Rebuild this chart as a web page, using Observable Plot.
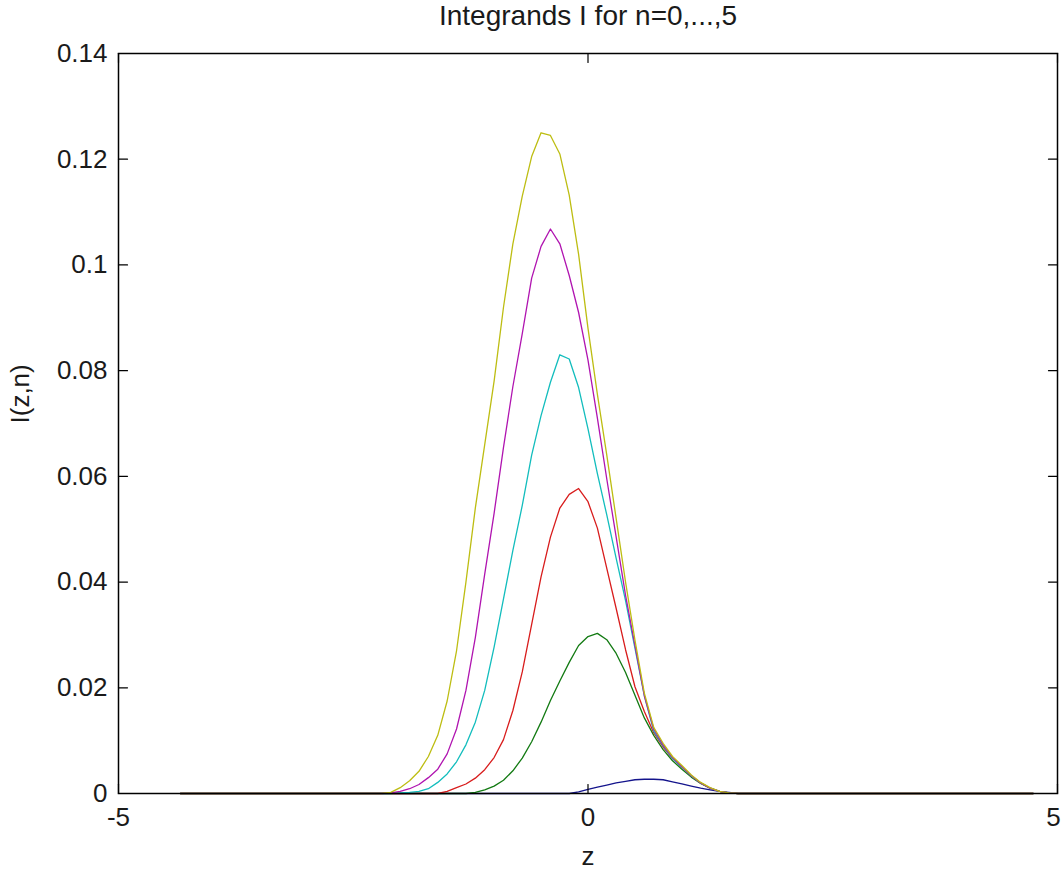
<!DOCTYPE html>
<html>
<head>
<meta charset="utf-8">
<script src="https://cdn.jsdelivr.net/npm/d3@7"></script>
<script src="https://cdn.jsdelivr.net/npm/@observablehq/plot@0.6"></script>
<style>
  html, body { margin: 0; padding: 0; background: #ffffff; }
  #chart { width: 1062px; height: 871px; overflow: hidden; }
</style>
</head>
<body>
<div id="chart"></div>
<script>
// ---- Data ----
const titleText = "Integrands I for n=0,...,5";
const xLabel = "z";
const yLabel = "I(z,n)";

const xTicks = [-5, 0, 5];
const xTickLabels = ["-5", "0", "5"];
const yTicks = [0, 0.02, 0.04, 0.06, 0.08, 0.1, 0.12, 0.14];
const yTickLabels = ["0", "0.02", "0.04", "0.06", "0.08", "0.1", "0.12", "0.14"];

const seriesNames = ["n=0", "n=1", "n=2", "n=3", "n=4", "n=5"];
const seriesColors = ["#14148c", "#127a12", "#d81c1c", "#12bdbd", "#b014b0", "#bdbd12"];

const zs = [-4.34, -2.2, -2.1, -2.0, -1.9, -1.8, -1.7, -1.6, -1.5, -1.4, -1.3, -1.2, -1.1, -1.0,
  -0.9, -0.8, -0.7, -0.6, -0.5, -0.4, -0.3, -0.2, -0.1, 0.0, 0.1, 0.2, 0.3, 0.4, 0.5, 0.6,
  0.7, 0.8, 0.9, 1.0, 1.1, 1.2, 1.3, 1.4, 1.5, 1.6, 4.74];

const n0 = [0, 0, 0, 0, 0, 0, 0, 0, 0, 0, 0, 0, 0, 0,
  0, 0, 0, 0, 0, 0, 0, 0, 0.0003, 0.0008, 0.0012, 0.0016, 0.0020, 0.0023, 0.0026, 0.0027,
  0.0027, 0.0026, 0.0022, 0.0018, 0.0014, 0.0010, 0.0007, 0.0004, 0.0002, 0, 0];

const n1 = [0, 0, 0, 0, 0, 0, 0, 0, 0, 0, 0, 0.0002, 0.0007, 0.0014,
  0.0025, 0.0043, 0.0067, 0.0098, 0.0135, 0.0176, 0.0213, 0.0248, 0.0280, 0.0297, 0.0303, 0.0291, 0.0265, 0.0229, 0.0186, 0.0143,
  0.0110, 0.0083, 0.0062, 0.0046, 0.0031, 0.0019, 0.0010, 0.0004, 0.0001, 0, 0];

const n2 = [0, 0, 0, 0, 0, 0, 0, 0, 0.0004, 0.0011, 0.0018, 0.0029, 0.0045, 0.0068,
  0.0102, 0.0157, 0.0230, 0.0320, 0.0410, 0.0485, 0.0540, 0.0566, 0.0577, 0.0552, 0.0502, 0.0426, 0.0350, 0.0272, 0.0202, 0.0155,
  0.0115, 0.0088, 0.0066, 0.0050, 0.0033, 0.0020, 0.0010, 0.0004, 0.0001, 0, 0];

const n3 = [0, 0, 0, 0.0001, 0.0002, 0.0004, 0.0009, 0.0021, 0.0037, 0.0060, 0.0092, 0.0135, 0.0195, 0.0277,
  0.0368, 0.0460, 0.0545, 0.0640, 0.0715, 0.0778, 0.0830, 0.0822, 0.0768, 0.0690, 0.0605, 0.0527, 0.0445, 0.0365, 0.0275, 0.0185,
  0.0118, 0.0090, 0.0066, 0.0050, 0.0033, 0.0020, 0.0010, 0.0004, 0.0001, 0, 0];

const n4 = [0, 0, 0.0001, 0.0004, 0.0009, 0.0017, 0.0030, 0.0046, 0.0075, 0.0122, 0.0195, 0.0295, 0.0415, 0.0530,
  0.0655, 0.0770, 0.0870, 0.0975, 0.1035, 0.1068, 0.1040, 0.0980, 0.0910, 0.0820, 0.0710, 0.0595, 0.0485, 0.0375, 0.0280, 0.0185,
  0.0122, 0.0092, 0.0068, 0.0051, 0.0034, 0.0020, 0.0010, 0.0004, 0.0001, 0, 0];

const n5 = [0, 0, 0.0002, 0.0011, 0.0024, 0.0042, 0.0070, 0.0110, 0.0175, 0.0270, 0.0400, 0.0540, 0.0660, 0.0780,
  0.0920, 0.1040, 0.1130, 0.1205, 0.1250, 0.1245, 0.1210, 0.1132, 0.1020, 0.0880, 0.0755, 0.0640, 0.0520, 0.0400, 0.0290, 0.0190,
  0.0125, 0.0095, 0.0070, 0.0053, 0.0035, 0.0021, 0.0011, 0.0004, 0.0001, 0, 0];

const seriesValues = [n0, n1, n2, n3, n4, n5];

// ---- Build the table for Plot ----
const rows = [];
seriesValues.forEach((vals, s) => {
  vals.forEach((v, i) => rows.push({n: seriesNames[s], z: zs[i], v}));
});

const FONT = "'Liberation Sans', Arial, Helvetica, sans-serif";
const tickShape = {draw(context, l) { context.moveTo(0, 0); context.lineTo(0, -l); }};
const TL = 9;
const xFmt = d => xTickLabels[xTicks.indexOf(d)];
const lastX = xTicks[xTicks.length - 1];

const chart = Plot.plot({
  width: 1062,
  height: 871,
  marginLeft: 118,
  marginRight: 5,
  marginTop: 53,
  marginBottom: 78,
  style: {fontFamily: FONT, background: "#ffffff", color: "#1a1a1a", overflow: "visible"},
  x: {domain: [-5, 5]},
  y: {domain: [0, 0.14]},
  color: {domain: seriesNames, range: seriesColors},
  marks: [
    Plot.line(rows, {x: "z", y: "v", z: "n", stroke: "n", strokeWidth: 1.3}),
    Plot.frame({stroke: "#000000", strokeWidth: 1.5}),
    // inward ticks on all four sides
    Plot.vector(xTicks, {x: d => d, frameAnchor: "bottom", length: TL, rotate: 0, anchor: "start", shape: tickShape, stroke: "#000000", strokeWidth: 1.2}),
    Plot.vector(xTicks, {x: d => d, frameAnchor: "top", length: TL, rotate: 180, anchor: "start", shape: tickShape, stroke: "#000000", strokeWidth: 1.2}),
    Plot.vector(yTicks, {y: d => d, frameAnchor: "left", length: TL, rotate: 90, anchor: "start", shape: tickShape, stroke: "#000000", strokeWidth: 1.2}),
    Plot.vector(yTicks, {y: d => d, frameAnchor: "right", length: TL, rotate: 270, anchor: "start", shape: tickShape, stroke: "#000000", strokeWidth: 1.2}),
    Plot.axisX({ticks: xTicks.slice(0, -1), tickSize: 0, tickPadding: 14, fontSize: 26, label: null, tickFormat: xFmt}),
    Plot.axisX({ticks: [lastX], tickSize: 0, tickPadding: 14, fontSize: 26, label: null, tickFormat: xFmt, dx: -4}),
    Plot.axisY({ticks: yTicks, tickSize: 0, tickPadding: 11, fontSize: 26, label: null,
      tickFormat: d => yTickLabels[yTicks.findIndex(t => Math.abs(t - d) < 1e-9)]}),
    Plot.text([titleText], {frameAnchor: "top", dy: -37, fontSize: 28, lineAnchor: "middle", fill: "#1a1a1a"}),
    Plot.text([xLabel], {frameAnchor: "bottom", dy: 63, fontSize: 26, lineAnchor: "middle", fill: "#1a1a1a"}),
    Plot.text([yLabel], {frameAnchor: "left", dx: -98, rotate: -90, fontSize: 26, lineAnchor: "middle", fill: "#1a1a1a"})
  ]
});

document.getElementById("chart").appendChild(chart);
</script>
</body>
</html>
